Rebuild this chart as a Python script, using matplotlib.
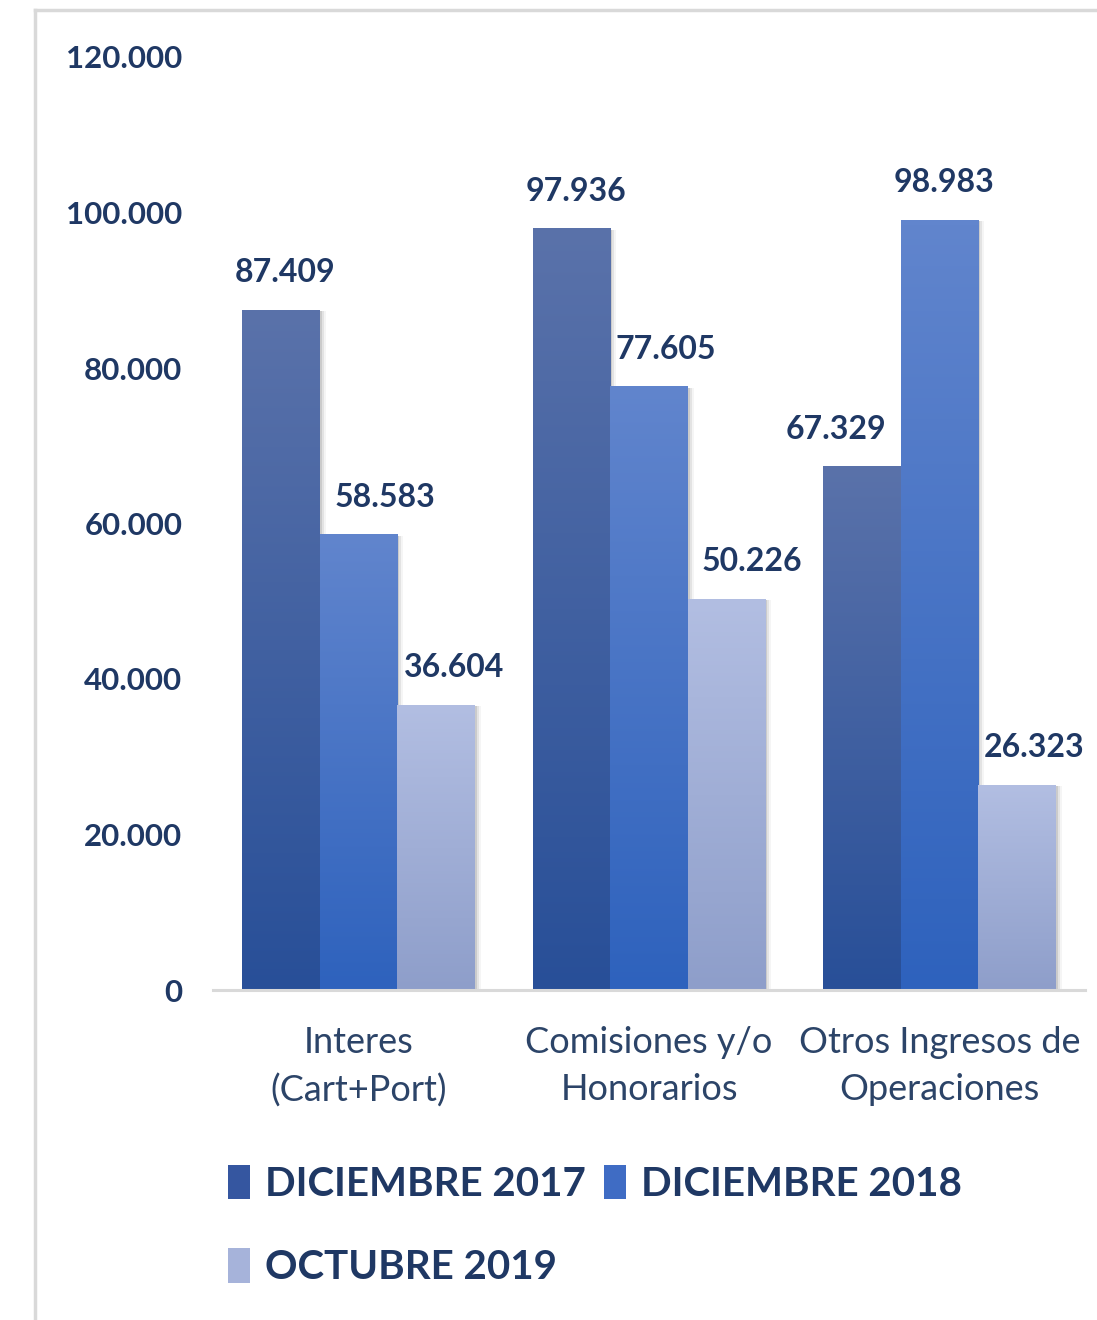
import numpy as np
import matplotlib
matplotlib.use("Agg")
import matplotlib.pyplot as plt
from matplotlib.colors import LinearSegmentedColormap
from matplotlib.patches import Patch, Rectangle
from matplotlib.lines import Line2D
import matplotlib.transforms as mtransforms

plt.rcParams["font.family"] = ["Lato", "DejaVu Sans"]

# --------------------------------------------------------------------------- #
# Data
# --------------------------------------------------------------------------- #
categories = ["Interes\n(Cart+Port)", "Comisiones y/o\nHonorarios",
              "Otros Ingresos de\nOperaciones"]
series_names = ["DICIEMBRE 2017", "DICIEMBRE 2018", "OCTUBRE 2019"]
dic_2017 = [87409, 97936, 67329]
dic_2018 = [58583, 77605, 98983]
oct_2019 = [36604, 50226, 26323]
yticks = [0, 20000, 40000, 60000, 80000, 100000, 120000]

# style: (top, bottom) gradient colours per series, label nudges in points
grads = [("#5a72aa", "#284f98"), ("#6185cd", "#2e62bd"), ("#b2bee2", "#8e9eca")]
legend_cols = ["#3556a0", "#3f6cc4", "#a6b3da"]
label_dx = [[3, 3, -19], [19, 12, 3], [13, 18, 12]]
NAVY = "#1f3864"

fig = plt.figure(figsize=(10.97, 13.2), dpi=100)
ax = fig.add_axes([213 / 1097, 1 - 990 / 1320, (1085 - 213) / 1097, (990 - 57) / 1320])

x = np.arange(len(categories))
w = 0.267
allvals = [dic_2017, dic_2018, oct_2019]
grad = np.linspace(0, 1, 256).reshape(-1, 1)

for i, vals in enumerate(allvals):
    pos = x + (i - 1) * w
    bars = ax.bar(pos, vals, width=w, color="none", zorder=2)
    cmap = LinearSegmentedColormap.from_list(f"g{i}", [grads[i][1], grads[i][0]])
    for j, b in enumerate(bars):
        x0, h = b.get_x(), b.get_height()
        # soft shadow on the right
        for k, a in enumerate([0.10, 0.07, 0.04]):
            off = mtransforms.ScaledTranslation((2 + 2 * k) / 100, -1 / 100,
                                                fig.dpi_scale_trans)
            ax.add_patch(Rectangle((x0, 0), w, h, color="#000000", alpha=a,
                                   lw=0, transform=ax.transData + off, zorder=1))
        ax.imshow(grad, extent=(x0, x0 + w, 0, h), origin="lower", cmap=cmap,
                  aspect="auto", zorder=2 + i * 0.1, interpolation="bicubic")
        ax.annotate(f"{vals[j]:,}".replace(",", "."), (x0 + w / 2, h),
                    xytext=(label_dx[i][j], 27), textcoords="offset points",
                    ha="center", va="center", fontsize=23, fontweight="bold",
                    color=NAVY, zorder=5)

ax.set_xlim(-0.5, 2.5)
ax.set_ylim(0, 120000)
ax.set_yticks(yticks)
ax.set_yticklabels([f"{t:,}".replace(",", ".") for t in yticks],
                   fontsize=22.5, fontweight="bold", color=NAVY)
ax.set_xticks(x)
ax.set_xticklabels(categories, fontsize=26, color="#2c4468", linespacing=1.52)
ax.tick_params(axis="y", length=0, pad=22)
ax.tick_params(axis="x", length=0, pad=26)
for s in ["top", "right", "left"]:
    ax.spines[s].set_visible(False)
ax.spines["bottom"].set_color("#d9d9d9")
ax.spines["bottom"].set_linewidth(2.2)
ax.spines["bottom"].set_zorder(6)

# outer frame (left and top edges of the chart area)
fig.add_artist(Line2D([35 / 1097, 35 / 1097], [0, 1 - 10 / 1320],
                      color="#d9d9d9", lw=2.5, transform=fig.transFigure))
fig.add_artist(Line2D([35 / 1097, 1], [1 - 10 / 1320, 1 - 10 / 1320],
                      color="#d9d9d9", lw=2.5, transform=fig.transFigure))

handles = [Patch(facecolor=legend_cols[i], label=series_names[i]) for i in range(3)]
order = [0, 2, 1]
leg = fig.legend([handles[i] for i in order], [series_names[i] for i in order],
                 ncol=2, loc="upper left", bbox_to_anchor=(228 / 1097, 1 - 1165 / 1320),
                 frameon=False, borderpad=0, borderaxespad=0,
                 handlelength=0.55, handleheight=0.94,
                 handletextpad=0.37, columnspacing=0.45, labelspacing=1.12,
                 prop={"size": 29, "weight": "bold"})
for t in leg.get_texts():
    t.set_color(NAVY)

fig.savefig("out.png", dpi=100)
